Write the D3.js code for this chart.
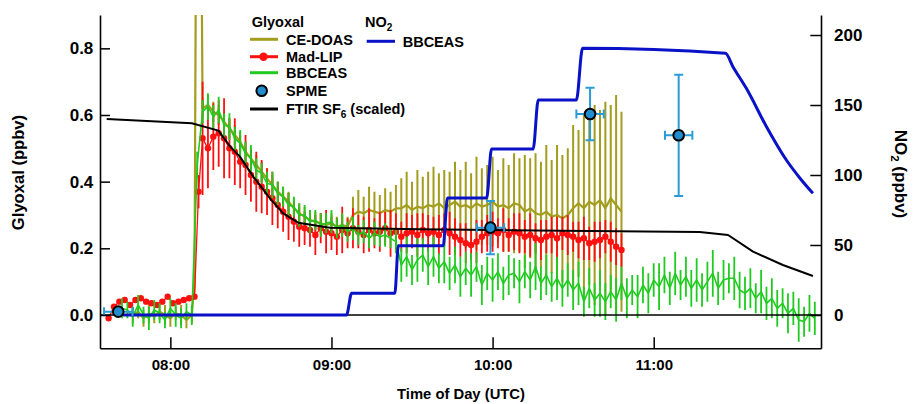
<!DOCTYPE html>
<html><head><meta charset="utf-8">
<script src="https://cdn.jsdelivr.net/npm/d3@7/dist/d3.min.js"></script>
<style>
body{margin:0;background:#fff;}
svg text{font-family:"Liberation Sans",Arial,Helvetica,sans-serif;font-weight:bold;fill:#000;}
</style></head><body>
<svg id="chart" width="914" height="404"></svg>
<script>
// ---------- data (time = minutes after 07:00) ----------
const xTickValues = [60, 120, 180, 240];
const xTickLabels = ["08:00", "09:00", "10:00", "11:00"];
const leftTicks = [0, 0.2, 0.4, 0.6, 0.8];
const rightTicks = [0, 50, 100, 150, 200];

// NO2 BBCEAS (ppbv, right axis)
const no2T = [42.4, 125.6, 127.5, 143.6, 144.9, 161.6, 163.2, 177.8, 179.6, 195.1, 197.0, 211.2, 213.5, 266.7, 269.5, 274.5, 282.0, 289.4, 294.4, 299.3];
const no2V = [0, 0, 15.5, 15.5, 49.5, 49.5, 83.5, 83.5, 118.5, 118.5, 153.5, 153.5, 190.5, 186.9, 177.4, 161.9, 134.5, 110.7, 97.9, 86.9];

// FTIR SF6 (scaled), left axis
const ftirT = [36.3, 68.0, 77.9, 82.3, 85.9, 90.9, 97.1, 102.0, 107.6, 119.4, 152.9, 179.7, 257.1, 267.7, 277.0, 288.1, 299.3];
const ftirV = [0.588, 0.575, 0.553, 0.505, 0.475, 0.415, 0.35, 0.305, 0.277, 0.262, 0.257, 0.255, 0.249, 0.24, 0.19, 0.15, 0.117];

// SPME glyoxal
const spmeT = [40.6, 179.2, 216.3, 249.3];
const spmeV = [0.01, 0.262, 0.603, 0.539];
const spmeTErr = [5.3, 5.1, 5.1, 5.1];
const spmeVErr = [0.006, 0.08, 0.079, 0.182];

// BBCEAS glyoxal
const bbT = [42,44,46,48,50,52,54,56,58,60,62,64,66,68,
  70,72,74,76,78,80,82,84,86,88,90,92,94,96,98,100,102,104,106,108,110,112,114,116,118,120,122,124,126,128,130,132,134,136,138,140,142,144,
  146,148,150,152,154,156,158,160,162,164,166,168,170,172,174,176,178,180,182,184,186,188,190,192,194,196,198,200,202,204,206,208,210,212,214,216,218,220,222,224,226,228,230,232,234,236,238,240,242,244,246,248,250,252,254,256,258,260,262,264,266,268,270,272,274,276,278,280,282,284,286,288,290,292,294,296,298,300];
const bbV = [0.02,0.015,-0.005,0.03,0.0,-0.01,0.015,0.005,-0.015,0.02,0.0,-0.01,0.01,0.0,
  0.45,0.61,0.625,0.595,0.615,0.57,0.565,0.53,0.515,0.485,0.47,0.435,0.425,0.395,0.39,0.365,0.355,0.33,0.325,0.30,0.30,0.28,0.285,0.27,0.275,0.28,0.26,0.27,0.25,0.26,0.24,0.25,0.23,0.245,0.235,0.24,0.23,0.22,
  0.15,0.175,0.135,0.165,0.18,0.145,0.175,0.14,0.16,0.125,
  0.15,0.115,0.14,0.12,0.145,0.09,0.125,0.105,0.13,0.095,
  0.12,0.125,0.10,0.13,0.105,0.145,0.095,0.12,0.085,0.11,
  0.08,0.105,0.075,0.095,0.04,0.08,0.045,0.065,0.04,0.07,
  0.045,0.095,0.05,0.075,0.055,0.09,0.065,0.105,0.085,0.12,
  0.08,0.125,0.09,0.115,0.08,0.105,0.075,0.10,0.125,0.08,
  0.105,0.11,0.11,0.075,0.065,0.08,0.05,0.07,0.035,0.05,
  0.02,0.035,0.005,0.02,-0.015,-0.02,0.005,-0.01];
const bbE = [0.03,0.025,0.03,0.03,0.025,0.035,0.03,0.03,0.025,0.03,0.035,0.03,0.025,0.03,
  0.04,0.035,0.04,0.035,0.04,0.035,0.04,0.035,0.04,0.035,0.04,0.035,0.03,0.035,0.04,0.035,0.03,0.035,0.03,0.035,0.03,0.035,0.03,0.035,0.03,0.035,0.03,0.035,0.03,0.035,0.03,0.035,0.03,0.035,0.03,0.035,0.03,0.035,
  0.05,0.06,0.045,0.065,0.05,0.055,0.06,0.045,0.065,0.05,0.055,0.06,0.05,0.065,0.045,0.06,0.05,0.065,0.055,0.05,
  0.06,0.045,0.065,0.05,0.055,0.07,0.05,0.06,0.045,0.065,0.055,0.05,0.06,0.065,0.045,0.06,0.05,0.07,0.055,0.05,
  0.065,0.05,0.06,0.045,0.065,0.055,0.06,0.05,0.07,0.055,0.05,0.065,0.045,0.06,0.055,0.065,0.05,0.06,0.07,0.05,
  0.06,0.045,0.065,0.055,0.05,0.06,0.045,0.065,0.05,0.06,0.055,0.045,0.06,0.05,0.065,0.045,0.055,0.05];

// CE-DOAS glyoxal
const ceT = [46,48,50,52,54,56,58,60,62,64,66,68,69,70,71,
  72,74,76,78,80,82,84,86,88,90,92,94,96,98,100,102,104,106,108,110,112,114,116,118,120,122,124,126,128,130,132,134,136,138,140,142,144,
  146,148,150,152,154,156,158,160,162,164,166,168,170,172,174,176,178,180,182,184,186,188,190,192,194,196,198,200,202,204,206,208,210,212,214,216,218,220,222,224,226,228];
const ceV = [0.0,0.01,-0.01,0.005,-0.005,0.01,0.0,-0.01,0.005,0.0,-0.015,0.0,0.1,2.0,1.8,
  0.62,0.63,0.61,0.60,0.58,0.56,0.54,0.52,0.49,0.47,0.45,0.43,0.41,0.39,0.37,0.355,0.34,0.32,0.305,0.295,0.285,0.28,0.275,0.27,0.275,0.265,0.27,0.265,0.30,0.31,0.305,0.315,0.31,0.305,0.315,0.31,0.32,
  0.32,0.33,0.315,0.325,0.32,0.33,0.325,0.335,0.32,0.33,0.34,0.325,0.33,0.32,0.335,0.325,0.33,0.34,0.325,0.33,0.32,0.335,0.33,0.31,0.32,0.305,0.30,0.31,0.295,0.30,0.29,0.30,0.32,0.335,0.32,0.34,0.33,0.345,0.32,0.35,0.33,0.31];
const ceE = [0.025,0.02,0.025,0.03,0.02,0.025,0.03,0.025,0.02,0.03,0.025,0.025,0.03,0.05,0.05,
  0.03,0.03,0.03,0.03,0.03,0.03,0.03,0.03,0.03,0.03,0.03,0.03,0.03,0.03,0.03,0.03,0.03,0.03,0.03,0.03,0.03,0.03,0.03,0.03,0.03,0.03,0.03,0.03,0.055,0.065,0.05,0.07,0.06,0.055,0.065,0.06,0.07,
  0.09,0.10,0.085,0.11,0.095,0.10,0.12,0.09,0.115,0.10,0.12,
  0.11,0.13,0.105,0.14,0.115,0.12,0.135,0.11,0.14,0.13,0.15,
  0.14,0.17,0.15,0.18,0.16,0.20,0.17,0.21,0.19,
  0.20,0.25,0.22,0.28,0.25,0.30,0.27,0.32,0.28,0.33,0.30];

// Mad-LIP glyoxal
const lipT = [37,39,41,43,45,47,49,51,53,55,57,59,61,63,65,67,69,70.5,
  72,74,76,78,80,82,84,86,88,90,92,94,96,98,100,102,104,106,108,110,
  112,114,116,118,120,122,124,126,128,130,132,134,136,138,140,142,144,146,148,150,152,154,156,158,160,162,164,166,168,170,172,174,176,178,180,182,184,186,188,190,192,194,196,198,200,202,204,206,208,210,212,214,216,218,220,222,224,226,228];
const lipV = [-0.01,0.025,0.04,0.045,0.03,0.045,0.05,0.04,0.035,0.03,0.04,0.055,0.035,0.04,0.045,0.05,0.055,0.37,
  0.53,0.50,0.535,0.545,0.53,0.50,0.49,0.46,0.45,0.42,0.40,0.385,0.37,0.35,0.33,0.31,0.295,0.28,0.265,0.26,
  0.255,0.24,0.26,0.25,0.245,0.235,0.255,0.245,0.26,0.25,0.24,0.255,0.245,0.25,0.26,0.245,0.25,0.235,0.245,0.25,0.24,0.255,0.245,0.25,0.24,0.255,0.245,0.235,0.225,0.215,0.21,0.22,0.235,0.245,0.25,0.245,0.255,0.24,0.25,0.245,0.235,0.24,0.23,0.225,0.235,0.24,0.23,0.245,0.24,0.235,0.225,0.23,0.215,0.22,0.225,0.235,0.22,0.205,0.195];
const lipE = [0.008,0.008,0.008,0.008,0.008,0.008,0.008,0.008,0.008,0.008,0.008,0.008,0.008,0.008,0.008,0.008,0.008,0.05,
  0.17,0.12,0.10,0.10,0.12,0.09,0.10,0.08,0.09,0.08,0.09,0.08,0.07,0.08,0.07,0.06,0.07,0.06,0.06,0.05,
  0.05,0.06,0.045,0.065,0.05,0.055,0.07,0.045,0.06,0.05,0.055,0.065,0.045,0.06,0.05,0.07,0.055,0.045,0.06,0.05,
  0.065,0.05,0.055,0.045,0.06,0.05,0.065,0.055,0.05,0.06,0.045,0.065,0.05,0.055,0.06,0.045,0.065,0.05,0.055,0.06,
  0.05,0.065,0.045,0.06,0.05,0.055,0.065,0.05,0.06,0.045,0.055,0.065,0.05,0.06,0.055,0.05,0.06,0.055,0.05];

// ---------- drawing ----------
const C = {olive:"#a39d1d", red:"#ff1010", green:"#1fcb1f", blue:"#0a12c8", spme:"#1f8dcf", spmeErr:"#2b9bd8"};
const svg = d3.select("#chart");
const L = 100, R = 821, T = 15, B = 348.3;

const x = d3.scaleLinear().domain([33.8, 302.3]).range([L, R]);
const yL = d3.scaleLinear().domain([-0.1, 0.9]).range([B, T]);
const yR = d3.scaleLinear().domain([-23.8, 214.3]).range([B, T]);

svg.append("defs").append("clipPath").attr("id","plotclip")
  .append("rect").attr("x", L).attr("y", T).attr("width", R - L).attr("height", B - T);

const plot = svg.append("g").attr("clip-path","url(#plotclip)");

function zip(Ts, Vs, Es){ return Ts.map((t,i)=>({t:t, v:Vs[i], e:Es ? Es[i] : 0})); }

function errBars(data, color, w){
  plot.append("g").selectAll("line").data(data).join("line")
    .attr("x1", d=>x(d.t)).attr("x2", d=>x(d.t))
    .attr("y1", d=>yL(d.v - d.e)).attr("y2", d=>yL(d.v + d.e))
    .attr("stroke", color).attr("stroke-width", w);
}
function trace(data, yS, color, w, curve){
  plot.append("path").datum(data)
    .attr("d", d3.line().curve(curve || d3.curveLinear).x(d=>x(d.t)).y(d=>yS(d.v)))
    .attr("fill","none").attr("stroke", color).attr("stroke-width", w).attr("stroke-linejoin","round");
}

// CE-DOAS
const ce = zip(ceT, ceV, ceE);
errBars(ce, C.olive, 2);
trace(ce, yL, C.olive, 2.2);

// Mad-LIP
const lip = zip(lipT, lipV, lipE);
errBars(lip, C.red, 1.8);
trace(lip, yL, C.red, 1.3);
plot.append("g").selectAll("circle").data(lip).join("circle")
  .attr("cx", d=>x(d.t)).attr("cy", d=>yL(d.v)).attr("r", 3.2).attr("fill", C.red);

// BBCEAS glyoxal
const bb = zip(bbT, bbV, bbE);
errBars(bb, C.green, 1.8);
trace(bb, yL, C.green, 1.6);

// zero line
plot.append("line").attr("x1", L).attr("x2", R).attr("y1", yL(0)).attr("y2", yL(0))
  .attr("stroke","#000").attr("stroke-width",1.5);

// FTIR SF6
trace(zip(ftirT, ftirV), yL, "#000", 2);

// NO2
trace(zip(no2T, no2V), yR, C.blue, 3, d3.curveMonotoneX);

// SPME
const spme = spmeT.map((t,i)=>({t:t, v:spmeV[i], et:spmeTErr[i], ev:spmeVErr[i]}));
const sg = plot.append("g");
const cap = 4.5;
spme.forEach(d=>{
  const cx = x(d.t), cy = yL(d.v);
  const x0 = x(d.t - d.et), x1 = x(d.t + d.et), y0 = yL(d.v - d.ev), y1 = yL(d.v + d.ev);
  const segs = [[x0,cy,x1,cy],[x0,cy-cap,x0,cy+cap],[x1,cy-cap,x1,cy+cap],
                [cx,y0,cx,y1],[cx-cap,y0,cx+cap,y0],[cx-cap,y1,cx+cap,y1]];
  segs.forEach(s=>sg.append("line").attr("x1",s[0]).attr("y1",s[1]).attr("x2",s[2]).attr("y2",s[3])
    .attr("stroke", C.spmeErr).attr("stroke-width", 2));
});
sg.selectAll("circle").data(spme).join("circle")
  .attr("cx", d=>x(d.t)).attr("cy", d=>yL(d.v)).attr("r", 5.3)
  .attr("fill", C.spme).attr("stroke","#000").attr("stroke-width",2);

// ---------- axes ----------
function styleAxis(g){
  g.selectAll("path.domain").attr("stroke","#000").attr("stroke-width",1.6);
  g.selectAll(".tick line").attr("stroke","#000").attr("stroke-width",1.5);
}
const fmtTime = d => xTickLabels[xTickValues.indexOf(d)];
const gx = svg.append("g").attr("transform",`translate(0,${B})`)
  .call(d3.axisBottom(x).tickValues(xTickValues).tickFormat(fmtTime).tickSizeInner(-11).tickSizeOuter(0).tickPadding(11));
gx.selectAll("text").attr("font-size","15px");
styleAxis(gx);

const gl = svg.append("g").attr("transform",`translate(${L},0)`)
  .call(d3.axisLeft(yL).tickValues(leftTicks).tickFormat(d3.format(".1f")).tickSizeInner(-10).tickSizeOuter(0).tickPadding(6.7));
gl.selectAll("text").attr("font-size","17px");
styleAxis(gl);

const gr = svg.append("g").attr("transform",`translate(${R},0)`)
  .call(d3.axisRight(yR).tickValues(rightTicks).tickFormat(d3.format("d")).tickSizeInner(-10.7).tickSizeOuter(0).tickPadding(13));
gr.selectAll("text").attr("font-size","17px");
styleAxis(gr);

// axis titles
svg.append("text").attr("transform","translate(17.8,172.5) rotate(-90)")
  .attr("text-anchor","middle").attr("dy","0.35em").attr("font-size","16.6px").text("Glyoxal (ppbv)");
const rt = svg.append("text").attr("transform","translate(900.5,174) rotate(90)")
  .attr("text-anchor","middle").attr("dy","0.35em").attr("font-size","17px");
rt.append("tspan").text("NO");
rt.append("tspan").attr("font-size","11.5px").attr("dy","4").text("2");
rt.append("tspan").attr("dy","-4").text(" (ppbv)");
svg.append("text").attr("x",461).attr("y",399).attr("text-anchor","middle")
  .attr("font-size","14.8px").text("Time of Day (UTC)");

// ---------- legend ----------
const lg = svg.append("g").attr("font-size","14.5px");
lg.append("text").attr("x",251.7).attr("y",26.5).attr("font-size","14.5px").text("Glyoxal");
const nh = lg.append("text").attr("x",365).attr("y",26.5).attr("font-size","14.5px");
nh.append("tspan").text("NO");
nh.append("tspan").attr("font-size","10px").attr("dy","4").text("2");

const legendRows = [
  {label:"CE-DOAS", color:C.olive, y:39.3, type:"line"},
  {label:"Mad-LIP", color:C.red, y:56.7, type:"marker"},
  {label:"BBCEAS", color:C.green, y:72.7, type:"line"},
  {label:"SPME", color:C.spme, y:90.7, type:"spme"},
  {label:"FTIR SF", sub:"6", after:" (scaled)", color:"#000", y:109, type:"line"}
];
legendRows.forEach(r=>{
  if (r.type === "line" || r.type === "marker") {
    lg.append("line").attr("x1",250).attr("x2",278).attr("y1",r.y).attr("y2",r.y)
      .attr("stroke",r.color).attr("stroke-width",3);
  }
  if (r.type === "marker") {
    lg.append("circle").attr("cx",263.5).attr("cy",r.y).attr("r",4.2).attr("fill",r.color);
  }
  if (r.type === "spme") {
    lg.append("circle").attr("cx",261.7).attr("cy",r.y).attr("r",5.3)
      .attr("fill",r.color).attr("stroke","#000").attr("stroke-width",2);
  }
  const t = lg.append("text").attr("x",286).attr("y",r.y + 5.3);
  t.append("tspan").text(r.label);
  if (r.sub) {
    t.append("tspan").attr("font-size","10px").attr("dy","4").text(r.sub);
    t.append("tspan").attr("dy","-4").text(r.after);
  }
});
lg.append("line").attr("x1",366.7).attr("x2",395).attr("y1",41.3).attr("y2",41.3)
  .attr("stroke",C.blue).attr("stroke-width",3);
lg.append("text").attr("x",402.7).attr("y",46.6).text("BBCEAS");
</script>
</body></html>
